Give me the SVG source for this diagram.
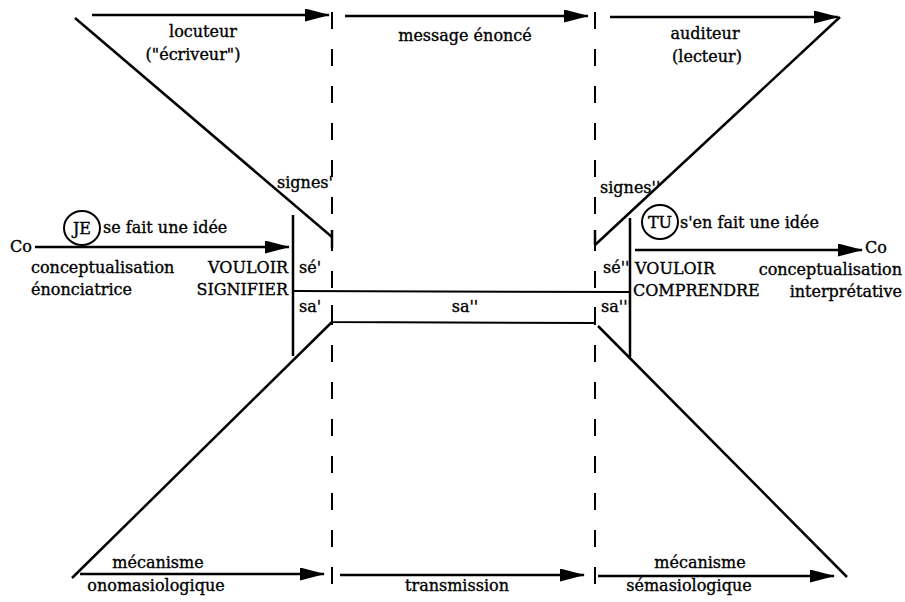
<svg xmlns="http://www.w3.org/2000/svg" width="905" height="602" viewBox="0 0 905 602">
<style>
text{font-family:"DejaVu Serif","Liberation Serif",serif;font-size:16px;fill:#000;stroke:#000;stroke-width:0.35}
.m{text-anchor:middle}
.e{text-anchor:end}
.ln{stroke:#000;stroke-width:2.5;fill:none}
.th{stroke:#000;stroke-width:2;fill:none}
.ds{stroke:#000;stroke-width:2;fill:none;stroke-dasharray:17 20}
.ar{stroke:#000;stroke-width:2.5;fill:none;marker-end:url(#ah)}
</style>
<defs>
<marker id="ah" markerUnits="userSpaceOnUse" markerWidth="26" markerHeight="14" refX="24" refY="6.5" orient="auto">
<path d="M0,0 L25,6.5 L0,13 z" fill="#000"/>
</marker>
</defs>
<rect width="905" height="602" fill="#fff"/>
<g id="connectors">
<line class="ds" x1="332" y1="12" x2="332" y2="585"/>
<line class="ds" x1="595" y1="12" x2="595" y2="585"/>
<line class="ar" x1="92" y1="15" x2="329" y2="15"/>
<line class="ar" x1="345" y1="16" x2="588" y2="16"/>
<line class="ar" x1="610" y1="17" x2="838" y2="17"/>
<line class="ln" x1="75" y1="18" x2="332" y2="237"/>
<line class="ln" x1="332" y1="230" x2="332" y2="248"/>
<line class="ln" x1="840" y1="17" x2="595" y2="245"/>
<line class="ln" x1="595" y1="230" x2="595" y2="245"/>
<line class="ar" x1="35" y1="247" x2="289" y2="247"/>
<line class="ar" x1="635" y1="250" x2="862" y2="250"/>
<line class="ln" x1="293" y1="215" x2="293" y2="356"/>
<line class="ln" x1="630" y1="218" x2="630" y2="357"/>
<line class="th" x1="293" y1="291" x2="630" y2="292"/>
<polyline class="th" points="332,305 332,322 595,323 595,307"/>
<line class="ln" x1="332" y1="322" x2="72" y2="578"/>
<line class="ln" x1="598" y1="326" x2="847" y2="577"/>
<line class="ar" x1="80" y1="574" x2="324" y2="574"/>
<line class="ar" x1="340" y1="575" x2="584" y2="575"/>
<line class="ar" x1="598" y1="576" x2="834" y2="576"/>
</g>
<g id="je">
<ellipse cx="82" cy="228" rx="18" ry="17" class="th"/>
<text class="m" x="82" y="234">JE</text>
</g>
<g id="tu">
<ellipse cx="660" cy="222" rx="18" ry="17" class="th"/>
<text class="m" x="660" y="228">TU</text>
</g>
<g id="labels">
<text class="m" x="203" y="37">locuteur</text>
<text class="m" x="193" y="60">("écriveur")</text>
<text class="m" x="465" y="41">message énoncé</text>
<text class="m" x="705" y="39">auditeur</text>
<text class="m" x="707" y="62">(lecteur)</text>
<text x="277" y="188">signes'</text>
<text x="600" y="193">signes''</text>
<text x="103" y="233">se fait une idée</text>
<text x="680" y="228">s'en fait une idée</text>
<text x="10" y="252">Co</text>
<text x="865" y="253">Co</text>
<text x="31" y="273">conceptualisation</text>
<text x="31" y="295">énonciatrice</text>
<text class="e" x="288" y="273">VOULOIR</text>
<text class="e" x="288" y="295">SIGNIFIER</text>
<text x="299" y="273">sé'</text>
<text x="299" y="312">sa'</text>
<text class="m" x="465" y="312">sa''</text>
<text x="603" y="273">sé''</text>
<text x="601" y="312">sa'''</text>
<text x="635" y="274">VOULOIR</text>
<text x="633" y="296">COMPRENDRE</text>
<text class="e" x="902" y="275">conceptualisation</text>
<text class="e" x="902" y="297">interprétative</text>
<text class="m" x="158" y="568">mécanisme</text>
<text class="m" x="156" y="591">onomasiologique</text>
<text class="m" x="457" y="591">transmission</text>
<text class="m" x="700" y="568">mécanisme</text>
<text class="m" x="689" y="591">sémasiologique</text>
</g>
</svg>
